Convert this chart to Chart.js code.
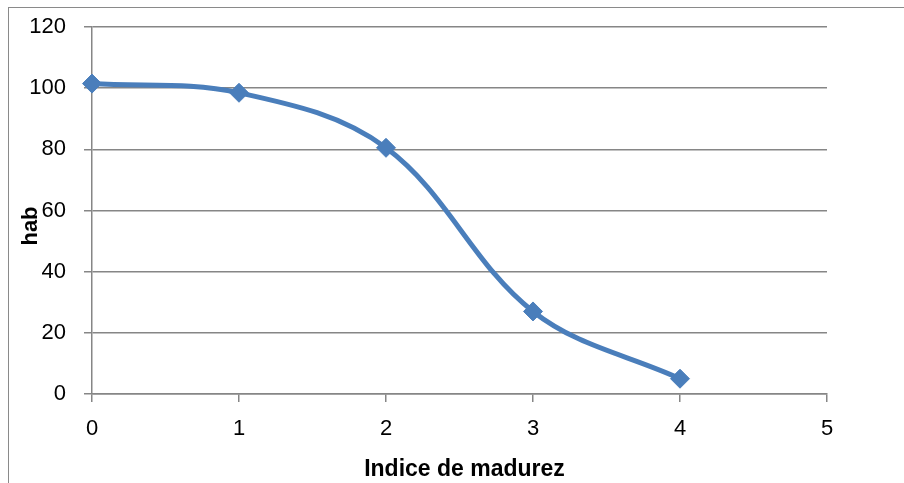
<!DOCTYPE html>
<html>
<head>
<meta charset="utf-8">
<script src="https://cdn.jsdelivr.net/npm/chart.js@4/dist/chart.umd.min.js"></script>
<style>
  html, body { margin: 0; padding: 0; background: #ffffff; }
  #wrap { position: relative; width: 904px; height: 483px; }
  #frame { position: absolute; left: 8px; top: 7px; right: 0; bottom: 0;
           border-left: 1px solid #8a8a8a; border-top: 1px solid #8a8a8a; }
  canvas { position: absolute; left: 0; top: 0; }
</style>
</head>
<body>
<div id="wrap">
  <div id="frame"></div>
  <canvas id="chart" width="904" height="483"></canvas>
</div>
<script>
// Maturity index vs hue angle (hab)
const indiceMadurez = [0, 1, 2, 3, 4];
const hab = [101.5, 98.5, 80.5, 27, 5];
const xTicks = [0, 1, 2, 3, 4, 5];
const yTicks = [0, 20, 40, 60, 80, 100, 120];
const xTitle = 'Indice de madurez';
const yTitle = 'hab';

const FONT = '"Liberation Sans", Arial, sans-serif';
const GRID = '#868686';
const BLUE = '#4A7EBB';

// axis titles drawn at fixed spots around the plot area
const axisTitles = {
  id: 'axisTitles',
  afterDraw(chart) {
    const ctx = chart.ctx;
    const a = chart.chartArea;
    ctx.save();
    ctx.fillStyle = '#000';
    ctx.font = 'bold 23px ' + FONT;
    ctx.textAlign = 'center';
    ctx.textBaseline = 'alphabetic';
    ctx.fillText(xTitle, (a.left + a.right) / 2 + 5, 476);
    ctx.font = 'bold 22px ' + FONT;
    ctx.textBaseline = 'middle';
    ctx.translate(31, 226);
    ctx.rotate(-Math.PI / 2);
    ctx.fillText(yTitle, 0, 0);
    ctx.restore();
  }
};

new Chart(document.getElementById('chart'), {
  type: 'scatter',
  data: {
    datasets: [{
      data: indiceMadurez.map((x, i) => ({ x: x, y: hab[i] })),
      showLine: true,
      borderColor: BLUE,
      backgroundColor: BLUE,
      borderWidth: 5,
      tension: 0.36,
      pointStyle: 'rectRot',
      pointRadius: 9.5,
      pointHoverRadius: 9.5,
      pointBorderWidth: 1,
      clip: false
    }]
  },
  options: {
    responsive: false,
    animation: false,
    layout: { padding: { left: 0, top: 27, right: 77, bottom: 0 } },
    plugins: { legend: { display: false }, tooltip: { enabled: false } },
    scales: {
      x: {
        type: 'linear',
        min: 0, max: 5,
        afterBuildTicks(s) { s.ticks = xTicks.map(v => ({ value: v })); },
        afterFit(s) { s.height = 89; s.paddingLeft = 0; s.paddingRight = 0; },
        grid: { display: true, drawOnChartArea: false, drawTicks: true, tickLength: 8, color: GRID, lineWidth: 1.5 },
        border: { display: true, color: GRID, width: 1.5 },
        ticks: { color: '#000', font: { family: FONT, size: 22 }, padding: 14 }
      },
      y: {
        min: 0, max: 120,
        afterBuildTicks(s) { s.ticks = yTicks.map(v => ({ value: v })); },
        afterFit(s) { s.width = 92; s.paddingTop = 0; s.paddingBottom = 0; },
        grid: { display: true, drawOnChartArea: true, drawTicks: true, tickLength: 8, color: GRID, lineWidth: 1.5 },
        border: { display: true, color: GRID, width: 1.5 },
        ticks: { color: '#000', font: { family: FONT, size: 22 }, padding: 18 }
      }
    }
  },
  plugins: [axisTitles]
});
</script>
</body>
</html>
